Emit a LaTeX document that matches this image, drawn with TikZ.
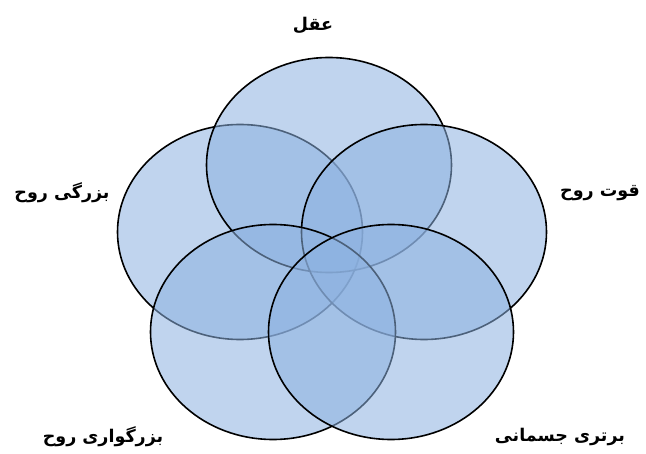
\documentclass[tikz,border=0pt]{standalone}
\usepackage{fontspec}
\newfontfamily\arabicfont[Script=Arabic]{DejaVu Sans}
\TeXXeTstate=1
\usetikzlibrary{shapes.geometric}
\definecolor{petalblue}{RGB}{140,177,224}
\tikzset{%
  % classes
  petal/.style={ellipse, draw=black, line width=1.6pt, fill=petalblue,
    fill opacity=0.55, minimum width=245pt, minimum height=215pt, inner sep=0pt},
  tag/.style={font=\arabicfont\bfseries\fontsize{17.5}{20}\selectfont, inner sep=0pt},
}
\newcommand{\rtl}[1]{\beginR #1\endR}

\begin{document}
\begin{tikzpicture}[x=1pt, y=-1pt]
  \useasboundingbox (0,0) rectangle (646,454);
  % circles, back to front
  \node[petal] (left)  at (240,232) {};
  \node[petal] (top)   at (329,165) {};
  \node[petal] (right) at (424,232) {};
  \node[petal] (botleft)  at (273,332) {};
  \node[petal] (botright) at (391,332) {};

  % labels
  \node[tag] (aql)      at (313,25)  {\rtl{عقل}};
  \node[tag] (quvvat)   at (600,193) {\rtl{قوت روح}};
  \node[tag] (bozorgi)  at (62,193)  {\rtl{بزرگی روح}};
  \node[tag] (bozorgvari) at (103,437) {\rtl{بزرگواری روح}};
  \node[tag] (bartari)  at (560,437) {\rtl{برتری جسمانی}};
\end{tikzpicture}
\end{document}
